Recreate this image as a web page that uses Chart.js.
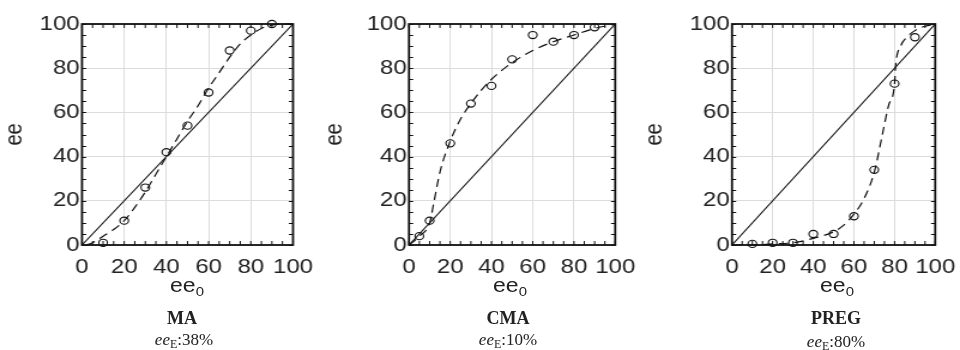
<!DOCTYPE html>
<html>
<head>
<meta charset="utf-8">
<script src="https://cdn.jsdelivr.net/npm/chart.js@4.4.1/dist/chart.umd.min.js"></script>
<style>
  body { margin: 0; background: #fff; }
  #wrap { position: relative; width: 960px; height: 350px; overflow: hidden; }
  /* the source figure is stretched sideways by about 1.2 */
  .panel { position: absolute; top: 0; transform-origin: 0 0; transform: scaleX(1.1985); }
  .lbl { position: absolute; transform: translateX(-50%); white-space: nowrap; color: #222; }
  .xt { font: 20px "Liberation Sans", Arial, sans-serif; transform: translateX(-50%) scaleX(1.15); }
  .xt sub { font-size: 13px; vertical-align: -4px; }
  .name { font: bold 18px "Liberation Serif", "Times New Roman", serif; }
  .eeE { font: 17px "Liberation Serif", "Times New Roman", serif; }
  .eeE sub { font-size: 12px; vertical-align: -3px; }
</style>
</head>
<body>
<div id="wrap">
  <canvas id="c1" class="panel" width="267" height="277" style="left:0px"></canvas>
  <canvas id="c2" class="panel" width="267" height="277" style="left:320px"></canvas>
  <canvas id="c3" class="panel" width="267" height="277" style="left:640px"></canvas>

  <div class="lbl xt" style="left:187px;top:274px">ee<sub>0</sub></div>
  <div class="lbl name" style="left:182px;top:308px">MA</div>
  <div class="lbl eeE" style="left:184px;top:330px"><i>ee</i><sub>E</sub>:38%</div>

  <div class="lbl xt" style="left:510px;top:274px">ee<sub>0</sub></div>
  <div class="lbl name" style="left:508px;top:308px">CMA</div>
  <div class="lbl eeE" style="left:508px;top:330px"><i>ee</i><sub>E</sub>:10%</div>

  <div class="lbl xt" style="left:837px;top:274px">ee<sub>0</sub></div>
  <div class="lbl name" style="left:836px;top:308px">PREG</div>
  <div class="lbl eeE" style="left:836px;top:332px"><i>ee</i><sub>E</sub>:80%</div>
</div>
<script>
// diagonal reference line
const diagX = [0, 100];
const diagY = [0, 100];

// MA
const maPtX = [10, 20, 30, 40, 50, 60, 70, 80, 90];
const maPtY = [1, 11, 26, 42, 54, 69, 88, 97, 100];
const maFitX = [2, 5, 10, 15, 20, 25, 30, 35, 40, 45, 50, 55, 60, 65, 70, 75, 80, 85, 90, 95, 100];
const maFitY = [0, 1, 4, 7, 11, 17, 24, 32, 40, 48, 56, 63, 71, 78, 85, 91, 95, 98, 99.5, 100, 100];

// CMA
const cmaPtX = [5, 10, 20, 30, 40, 50, 60, 70, 80, 90];
const cmaPtY = [4, 11, 46, 64, 72, 84, 95, 92, 95, 98.5];
const cmaFitX = [0, 5, 10, 12, 15, 20, 25, 30, 35, 40, 45, 50, 60, 70, 80, 90, 100];
const cmaFitY = [0, 4, 10, 19, 33, 47, 57, 64, 70, 75, 79, 82.5, 88, 92, 95, 98, 100];

// PREG
const pregPtX = [10, 20, 30, 40, 50, 60, 70, 80, 90];
const pregPtY = [0.5, 1, 1, 5, 5, 13, 34, 73, 94];
const pregFitX = [0, 10, 20, 30, 40, 50, 55, 60, 65, 70, 74, 77, 80, 80.5, 83, 86, 90, 95, 100];
const pregFitY = [0, 0, 0.5, 1, 3, 6, 9, 14, 21, 33, 50, 63, 73, 81, 90, 94, 97, 99, 100];

const tickFont = { family: "'Liberation Sans', Arial, sans-serif", size: 20 };
const stretch = 1.1985;

function pts(xs, ys) {
  return xs.map((x, i) => ({ x: x, y: ys[i] }));
}

// black box around the plot plus small inward ticks every 5
const frameTicks = {
  id: "frameTicks",
  afterDraw(chart) {
    const { ctx, chartArea: a, scales } = chart;
    ctx.save();
    ctx.strokeStyle = "#111";
    ctx.lineWidth = 1;
    ctx.beginPath();
    for (let v = 0; v <= 100; v += 5) {
      const px = scales.x.getPixelForValue(v);
      const py = Math.round(scales.y.getPixelForValue(v)) + 0.5;
      ctx.moveTo(px, a.bottom); ctx.lineTo(px, a.bottom - 4);
      ctx.moveTo(px, a.top); ctx.lineTo(px, a.top + 4);
      ctx.moveTo(a.left, py); ctx.lineTo(a.left + 3.5, py);
      ctx.moveTo(a.right, py); ctx.lineTo(a.right - 3.5, py);
    }
    ctx.stroke();
    ctx.lineWidth = 1.8;
    ctx.strokeRect(a.left, a.top, a.right - a.left, a.bottom - a.top);
    ctx.restore();
  }
};

function makePanel(id, axisW, padRight, ptX, ptY, fitX, fitY) {
  const ctx = document.getElementById(id).getContext("2d");
  new Chart(ctx, {
    type: "scatter",
    data: {
      datasets: [
        {
          data: pts(diagX, diagY),
          showLine: true,
          borderColor: "#111",
          borderWidth: 1.2,
          pointRadius: 0
        },
        {
          data: pts(fitX, fitY),
          showLine: true,
          borderColor: "#111",
          borderWidth: 1.2,
          borderDash: [8, 5],
          cubicInterpolationMode: "monotone",
          pointRadius: 0
        },
        {
          data: pts(ptX, ptY),
          showLine: false,
          pointStyle: "circle",
          pointRadius: 3.6,
          pointBorderWidth: 1.1,
          pointBorderColor: "#111",
          pointBackgroundColor: "rgba(0,0,0,0)"
        }
      ]
    },
    options: {
      responsive: false,
      animation: false,
      clip: false,
      layout: { padding: { top: 24, right: padRight / stretch, left: 0, bottom: 0 } },
      plugins: { legend: { display: false }, tooltip: { enabled: false } },
      scales: {
        x: {
          type: "linear",
          min: 0,
          max: 100,
          border: { display: false },
          // invisible tick marks only push the labels down
          grid: { color: "#dcdcdc", drawTicks: true, tickLength: 6, tickColor: "rgba(0,0,0,0)" },
          ticks: { stepSize: 20, autoSkip: false, color: "#222", font: tickFont, padding: 4, maxRotation: 0 },
          afterFit: (s) => { s.height = 32; }
        },
        y: {
          type: "linear",
          min: 0,
          max: 100,
          border: { display: false },
          grid: { color: "#dcdcdc", drawTicks: false },
          ticks: { stepSize: 20, color: "#222", font: tickFont, padding: 2 },
          title: { display: true, text: "ee", color: "#222", font: tickFont, padding: { top: 0, bottom: 0 } },
          afterFit: (s) => { s.width = axisW / stretch; }
        }
      }
    },
    plugins: [frameTicks]
  });
}

makePanel("c1", 82, 27, maPtX, maPtY, maFitX, maFitY);
makePanel("c2", 89, 21, cmaPtX, cmaPtY, cmaFitX, cmaFitY);
makePanel("c3", 92, 17, pregPtX, pregPtY, pregFitX, pregFitY);
</script>
</body>
</html>
